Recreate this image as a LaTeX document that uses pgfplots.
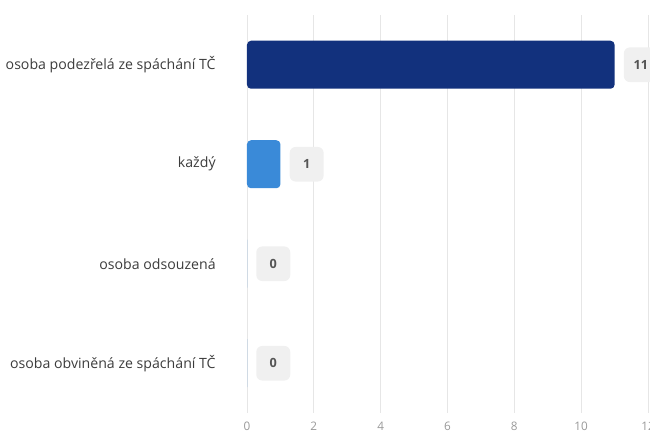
\documentclass[border=0pt]{standalone}
\usepackage{pgfplots}
\pgfplotsset{compat=1.18}
\usepackage{fontspec}
\setmainfont{Open Sans}
\definecolor{navy}{HTML}{12317D}
\definecolor{skyb}{HTML}{3A8AD8}
\definecolor{gridc}{HTML}{E6E6E6}
\definecolor{lblc}{HTML}{3C3C3C}
\definecolor{tickc}{HTML}{999999}
\definecolor{badge}{HTML}{F0F0F0}
\definecolor{badgetxt}{HTML}{555555}
\begin{document}
\begin{tikzpicture}
\begin{axis}[
  at={(185.25pt,15.75pt)}, anchor=south west,
  scale only axis, width=300.75pt, height=298.5pt,
  xbar, bar width=36pt, bar shift=0pt,
  xmin=0, xmax=12, ymin=-0.5, ymax=3.5, y dir=reverse,
  xtick={0,2,...,12}, ytick={0,1,2,3},
  yticklabels={osoba podezřelá ze spáchání TČ, každý, osoba odsouzená, osoba obviněná ze spáchání TČ},
  xmajorgrids, grid style={gridc, line width=0.6pt},
  axis line style={draw=none}, major tick length=0pt,
  yticklabel shift=20pt, xticklabel shift=3pt,
  y tick label style={font=\fontsize{10.6pt}{12pt}\selectfont, text=lblc, anchor=east},
  x tick label style={font=\fontsize{8.8pt}{10pt}\selectfont, text=tickc},
  /pgf/number format/assume math mode=true,
  nodes near coords,
  every node near coord/.append style={anchor=west, xshift=6.75pt, fill=badge, rounded corners=4.5pt,
    minimum width=25.5pt, minimum height=26pt, inner sep=0pt, text=badgetxt,
    font=\fontsize{9.5pt}{11pt}\selectfont\bfseries},
]
\addplot[draw=none, fill=navy, rounded corners=3pt] coordinates {(11,0)};
\addplot[draw=none, fill=skyb, rounded corners=3pt] coordinates {(1,1)};
\addplot[draw=none, fill=skyb] coordinates {(0,2)};
\addplot[draw=none, fill=skyb] coordinates {(0,3)};
\end{axis}
\pgfresetboundingbox
\useasboundingbox (0,0) rectangle (487.5pt,325.5pt);
\end{tikzpicture}
\end{document}
